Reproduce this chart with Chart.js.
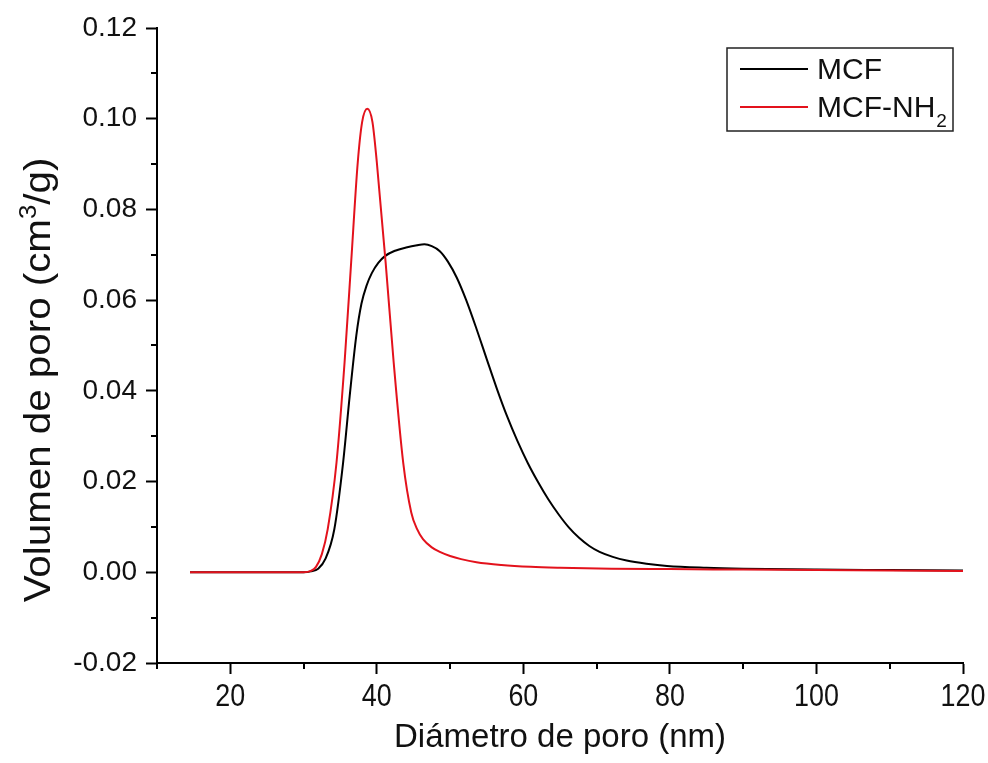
<!DOCTYPE html>
<html lang="es">
<head>
  <meta charset="UTF-8">
  <title>Distribución de tamaño de poro</title>
  <script src="https://cdn.jsdelivr.net/npm/chart.js"></script>
  <style>
    body { margin: 0; background: #fff; }
    #wrap { width: 988px; height: 763px; }
  </style>
</head>
<body>
  <div id="wrap"><canvas id="pore" width="988" height="763"></canvas></div>

  <script>
    // diámetro de poro (nm) y volumen de poro (cm3/g)
    const mcfX = [14.5, 20, 25, 30, 31, 32, 33, 34.2, 35.4, 36.3, 37.2, 37.9, 38.6, 39.3, 40.2, 41.1, 42.5, 44.0, 45.5, 46.5, 47.5, 48.6, 49.7, 50.9, 52.2, 53.6, 55.0, 56.4, 57.8, 59.2, 60.6, 62.0, 63.4, 64.8, 66.2, 67.6, 69.0, 70.4, 72.2, 74.1, 76.8, 79.6, 85, 90, 100, 110, 120];
    const mcfY = [0, 0, 0, 0, 0.0002, 0.0008, 0.003, 0.0095, 0.0242, 0.0389, 0.0522, 0.0592, 0.0632, 0.0659, 0.0682, 0.0697, 0.0709, 0.0716, 0.0721, 0.0723, 0.0719, 0.0708, 0.0685, 0.065, 0.06, 0.0537, 0.047, 0.0404, 0.0343, 0.0289, 0.0241, 0.0199, 0.0161, 0.0128, 0.0099, 0.0076, 0.0058, 0.0045, 0.0034, 0.0026, 0.0019, 0.0014, 0.001, 0.0008, 0.0006, 0.0005, 0.0004];

    const nh2X = [14.5, 20, 25, 30, 31, 31.7, 32.5, 33.3, 34.5, 35.6, 36.5, 37.4, 38.0, 38.7, 39.4, 40.0, 41.2, 42.3, 43.6, 44.7, 45.5, 46.3, 47.5, 48.6, 50, 51.5, 53.6, 57, 61, 65, 72, 80, 90, 100, 110, 120];
    const nh2Y = [0, 0, 0, 0, 0.0003, 0.0012, 0.004, 0.0095, 0.0242, 0.0463, 0.0684, 0.0904, 0.0993, 0.1022, 0.0993, 0.0904, 0.0684, 0.0463, 0.0242, 0.0132, 0.0095, 0.0073, 0.0055, 0.0045, 0.0036, 0.0029, 0.0022, 0.0016, 0.0012, 0.001, 0.0008, 0.0007, 0.0006, 0.0005, 0.0004, 0.0003];

    const seriesNames = ['MCF', 'MCF-NH'];
    const xMajor = [20, 40, 60, 80, 100, 120];
    const xMinor = [10, 30, 50, 70, 90, 110];
    const yMajor = [-0.02, 0, 0.02, 0.04, 0.06, 0.08, 0.10, 0.12];
    const yMinor = [-0.01, 0.01, 0.03, 0.05, 0.07, 0.09, 0.11];

    const FONT = '"Liberation Sans", Arial, sans-serif';
    const RED = '#e3121c';

    const toPoints = (xs, ys) => xs.map((x, i) => ({ x: x, y: ys[i] }));

    // ticks menores, etiquetas del eje x, títulos de ejes y leyenda
    const extras = {
      id: 'extras',
      afterDraw(chart) {
        const c = chart.ctx;
        const xs = chart.scales.x, ys = chart.scales.y;
        const area = chart.chartArea;
        c.save();
        c.strokeStyle = '#000';
        c.lineWidth = 2;
        c.beginPath();
        xMinor.forEach(v => {
          const px = Math.round(xs.getPixelForValue(v));
          c.moveTo(px, area.bottom);
          c.lineTo(px, area.bottom + 6);
        });
        yMinor.forEach(v => {
          const py = Math.round(ys.getPixelForValue(v));
          c.moveTo(area.left, py);
          c.lineTo(area.left - 6, py);
        });
        c.stroke();

        // etiquetas eje x (algo estrechas, como en el original)
        c.fillStyle = '#111';
        c.textAlign = 'center';
        c.textBaseline = 'alphabetic';
        c.font = '32px ' + FONT;
        xMajor.forEach(v => {
          c.save();
          c.translate(xs.getPixelForValue(v), 706);
          c.scale(0.84, 1);
          c.fillText(String(v), 0, 0);
          c.restore();
        });

        // título eje x
        c.font = '33px ' + FONT;
        c.fillText('Diámetro de poro (nm)', (area.left + area.right) / 2, 747);

        // título eje y con superíndice
        c.save();
        c.translate(50, 380);
        c.rotate(-Math.PI / 2);
        c.scale(1.12, 1);
        const big = '36px ' + FONT, small = '23px ' + FONT;
        const p1 = 'Volumen de poro (cm', p2 = '3', p3 = '/g)';
        c.font = big;
        const w1 = c.measureText(p1).width, w3 = c.measureText(p3).width;
        c.font = small;
        const w2 = c.measureText(p2).width;
        let x0 = -(w1 + w2 + w3) / 2;
        c.textAlign = 'left';
        c.font = big;
        c.fillText(p1, x0, 0);
        c.font = small;
        c.fillText(p2, x0 + w1, -14);
        c.font = big;
        c.fillText(p3, x0 + w1 + w2, 0);
        c.restore();

        // leyenda
        const bx = 727, by = 48, bw = 226, bh = 83;
        c.fillStyle = '#fff';
        c.fillRect(bx, by, bw, bh);
        c.strokeStyle = '#222';
        c.lineWidth = 1.5;
        c.strokeRect(bx, by, bw, bh);
        const rows = [
          { color: '#000', name: seriesNames[0], sub: '', y: 69 },
          { color: RED, name: seriesNames[1], sub: '2', y: 107 }
        ];
        c.textAlign = 'left';
        rows.forEach(r => {
          c.strokeStyle = r.color;
          c.lineWidth = 2;
          c.beginPath();
          c.moveTo(740, r.y);
          c.lineTo(808, r.y);
          c.stroke();
          c.fillStyle = '#111';
          c.font = '30px ' + FONT;
          c.fillText(r.name, 817, r.y + 10);
          if (r.sub) {
            const w = c.measureText(r.name).width;
            c.font = '19px ' + FONT;
            c.fillText(r.sub, 817 + w + 1, r.y + 20);
          }
        });
        c.restore();
      }
    };

    new Chart(document.getElementById('pore'), {
      type: 'line',
      data: {
        datasets: [
          {
            label: 'MCF',
            data: toPoints(mcfX, mcfY),
            borderColor: '#000',
            borderWidth: 2,
            pointRadius: 0,
            cubicInterpolationMode: 'monotone',
            fill: false,
            order: 1
          },
          {
            label: 'MCF-NH2',
            data: toPoints(nh2X, nh2Y),
            borderColor: RED,
            borderWidth: 2,
            pointRadius: 0,
            cubicInterpolationMode: 'monotone',
            fill: false,
            order: 0
          }
        ]
      },
      options: {
        responsive: false,
        animation: false,
        layout: { padding: { top: 28, right: 25, left: 0, bottom: 0 } },
        plugins: { legend: { display: false }, tooltip: { enabled: false } },
        scales: {
          x: {
            type: 'linear',
            min: 10,
            max: 120,
            afterBuildTicks: s => { s.ticks = xMajor.map(v => ({ value: v })); },
            afterFit: s => { s.height = 100; },
            border: { display: true, color: '#000', width: 2 },
            grid: { drawOnChartArea: false, drawTicks: true, tickLength: 11, tickWidth: 2, tickColor: '#000' },
            ticks: { display: false }
          },
          y: {
            type: 'linear',
            min: -0.02,
            max: 0.12,
            afterBuildTicks: s => { s.ticks = yMajor.map(v => ({ value: v })); },
            afterFit: s => { s.width = 157; },
            border: { display: true, color: '#000', width: 2 },
            grid: { drawOnChartArea: false, drawTicks: true, tickLength: 11, tickWidth: 2, tickColor: '#000' },
            ticks: { color: '#111', padding: 9, font: { family: FONT, size: 28 }, callback: v => v.toFixed(2) }
          }
        }
      },
      plugins: [extras]
    });
  </script>
</body>
</html>
